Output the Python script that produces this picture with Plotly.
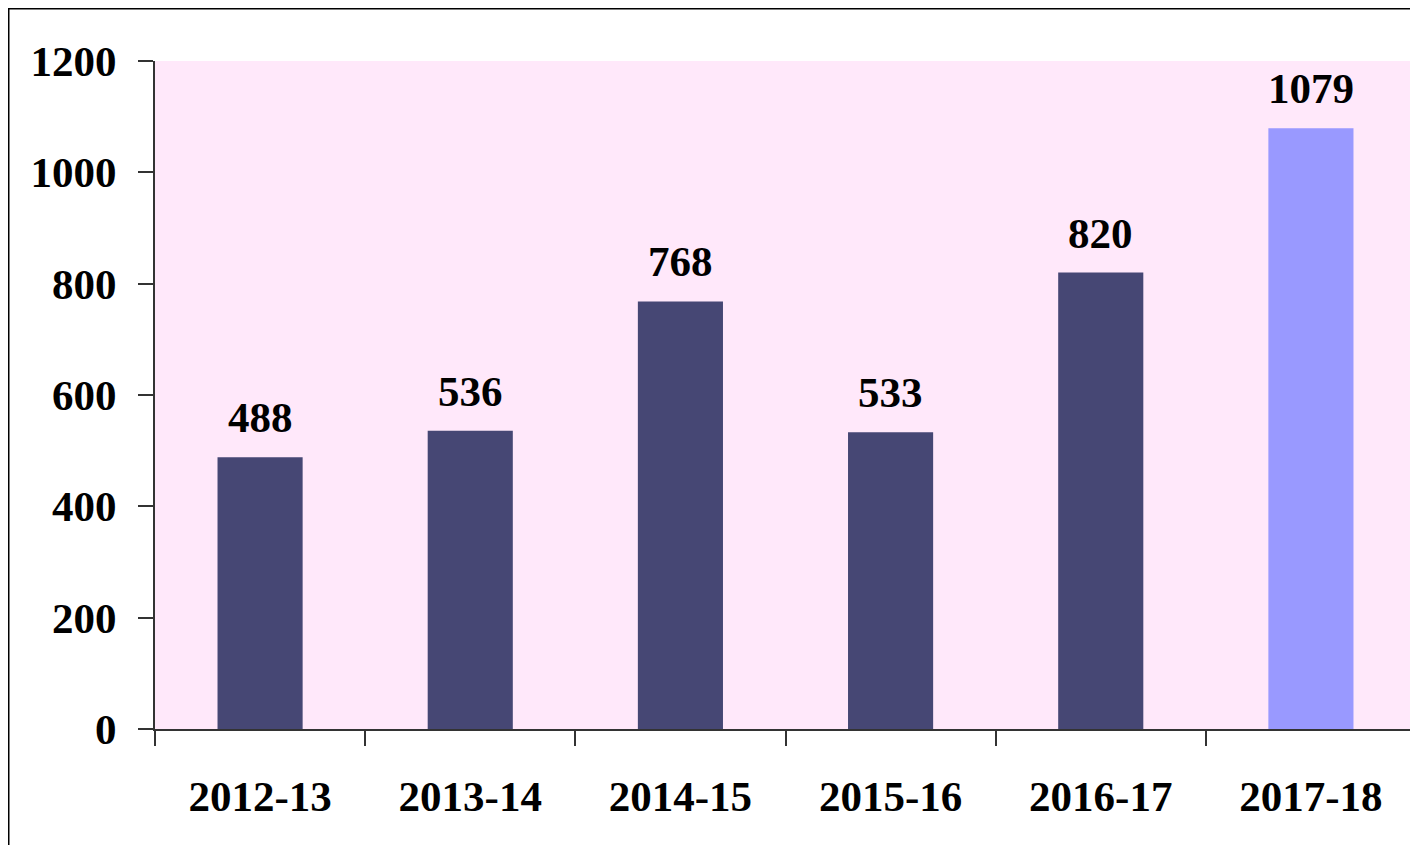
import plotly.graph_objects as go

categories = ["2012-13", "2013-14", "2014-15", "2015-16", "2016-17", "2017-18"]
values = [488, 536, 768, 533, 820, 1079]
bar_colors = ["#464774", "#464774", "#464774", "#464774", "#464774", "#9999ff"]
y_ticks = [0, 200, 400, 600, 800, 1000, 1200]

# page body adds ~8px offset; figure sized to fill the remaining window
W, H = 1410, 837
ml, mr, mt, mb = 147, 2, 53, 116
pw, ph = W - ml - mr, H - mt - mb

def px_x(p):
    return (p - ml) / pw

def px_y(p):
    return (H - mb - p) / ph

font = dict(family="Liberation Serif, Times New Roman, serif", size=43, color="black")

fig = go.Figure()
fig.add_trace(go.Bar(
    x=categories, y=values,
    marker=dict(color=bar_colors, line=dict(width=0)),
    width=0.405,
))

for c, v in zip(categories, values):
    fig.add_annotation(x=c, y=v, text=f"<b>{v}</b>", showarrow=False,
                       yanchor="bottom", yshift=14, font=font)

fig.update_layout(
    width=W, height=H,
    margin=dict(l=ml, r=mr, t=mt, b=mb),
    paper_bgcolor="white",
    plot_bgcolor="rgba(0,0,0,0)",
    showlegend=False,
    shapes=[
        dict(type="rect", xref="paper", yref="paper",
             x0=px_x(0.5), x1=px_x(W + 20), y0=px_y(H + 20), y1=px_y(0.5),
             fillcolor="white", line=dict(color="black", width=2), layer="below"),
        dict(type="rect", xref="paper", yref="paper",
             x0=0, x1=1, y0=0, y1=1,
             fillcolor="#ffe8fa", line=dict(width=0), layer="below"),
    ],
)

fig.update_xaxes(
    type="category", tickson="boundaries",
    showline=True, linecolor="#333333", linewidth=2,
    ticks="outside", ticklen=15, tickwidth=2, tickcolor="#333333",
    tickfont=font, ticklabelstandoff=28,
    showgrid=False, zeroline=False,
    tickprefix="<b>", ticksuffix="</b>",
)
fig.update_yaxes(
    range=[0, 1200], tickvals=y_ticks, ticktext=[f"<b>{t}</b>" for t in y_ticks],
    showline=True, linecolor="#333333", linewidth=2,
    ticks="outside", ticklen=15, tickwidth=2, tickcolor="#333333",
    tickfont=font, ticklabelstandoff=13,
    showgrid=False, zeroline=False,
)

fig.write_html("out.html")
